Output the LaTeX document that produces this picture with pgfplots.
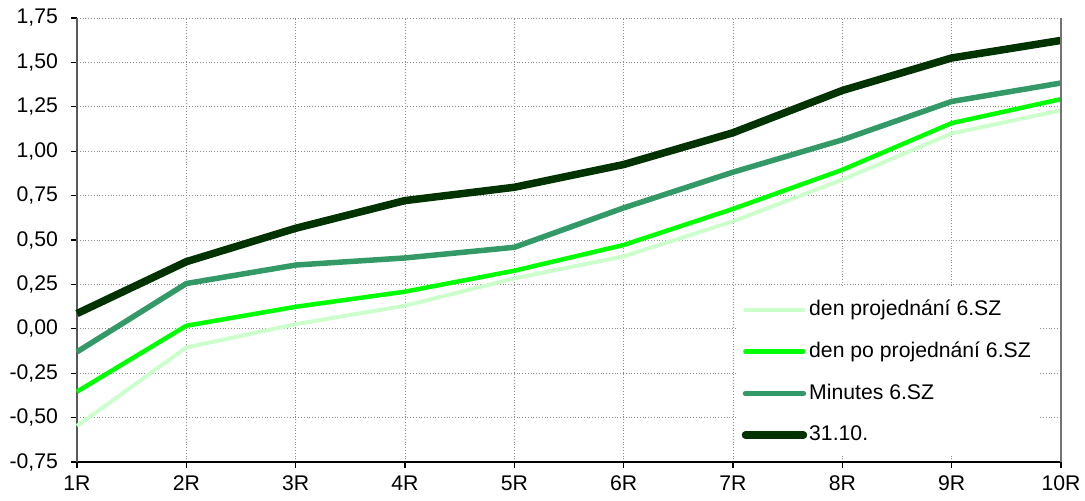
\documentclass[border=0pt]{standalone}
\usepackage{pgfplots}
\pgfplotsset{compat=1.18}
\usepackage{fontspec}
\setmainfont{Liberation Sans}
\definecolor{cLight}{HTML}{CCFFCC}
\definecolor{cGreen}{HTML}{00FF00}
\definecolor{cTeal}{HTML}{339966}
\definecolor{cDark}{HTML}{003300}
\begin{document}
\begin{tikzpicture}
\path[use as bounding box] (-38.5pt,-19pt) rectangle (504pt,231pt);
\begin{axis}[
  at={(0,0)}, anchor=south west,
  scale only axis, width=492pt, height=222pt,
  xmin=1, xmax=10, ymin=-0.75, ymax=1.75,
  xtick={1,...,10},
  xticklabels={1R,2R,3R,4R,5R,6R,7R,8R,9R,10R},
  ytick={-0.75,-0.5,-0.25,0,0.25,0.5,0.75,1,1.25,1.5,1.75},
  /pgf/number format/.cd, fixed, fixed zerofill, precision=2, use comma, assume math mode=true,
  /pgfplots/.cd,
  axis lines=left,
  axis line style={-},
  x axis line style={black, line width=0.8pt},
  y axis line style={black!65, line width=0.8pt},
  tick align=outside,
  major tick length=3pt,
  tick style={black, line width=0.6pt},
  grid=major,
  major grid style={densely dotted, black!45, line width=0.5pt},
  tick label style={font=\fontsize{10.6}{12}\selectfont},
  yticklabel style={xshift=-3pt},
  xticklabel style={yshift=-0.5pt},
  clip=false,
  legend style={at={(rel axis cs:0.669,0.392)}, anchor=north west, fill=white, draw=none,
    font=\fontsize{10.6}{12.5}\selectfont, row sep=7.7pt, inner xsep=3pt, inner ysep=4pt,
    nodes={inner xsep=1pt}},
  legend cell align=left,
  legend image code/.code={\draw[#1, line cap=round] (2pt,0pt) -- (31pt,0pt);},
  every axis plot/.append style={line join=round},
]
\addplot[cLight, line width=2pt] coordinates {(1,-0.547) (2,-0.105) (3,0.026) (4,0.13) (5,0.284) (6,0.408) (7,0.605) (8,0.84) (9,1.10) (10,1.23)};
\addlegendentry{den projednání 6.SZ}
\addplot[cGreen, line width=2.25pt] coordinates {(1,-0.354) (2,0.017) (3,0.124) (4,0.209) (5,0.327) (6,0.472) (7,0.675) (8,0.895) (9,1.158) (10,1.293)};
\addlegendentry{den po projednání 6.SZ}
\addplot[cTeal, line width=2.75pt] coordinates {(1,-0.13) (2,0.255) (3,0.359) (4,0.399) (5,0.459) (6,0.681) (7,0.882) (8,1.064) (9,1.28) (10,1.384)};
\addlegendentry{Minutes 6.SZ}
\addplot[cDark, line width=3.75pt] coordinates {(1,0.086) (2,0.378) (3,0.566) (4,0.722) (5,0.797) (6,0.925) (7,1.104) (8,1.342) (9,1.525) (10,1.624)};
\addlegendentry{31.10.}
\draw[black!55, line width=0.6pt] (rel axis cs:1,0) -- (rel axis cs:1,1);
\end{axis}
\end{tikzpicture}
\end{document}
